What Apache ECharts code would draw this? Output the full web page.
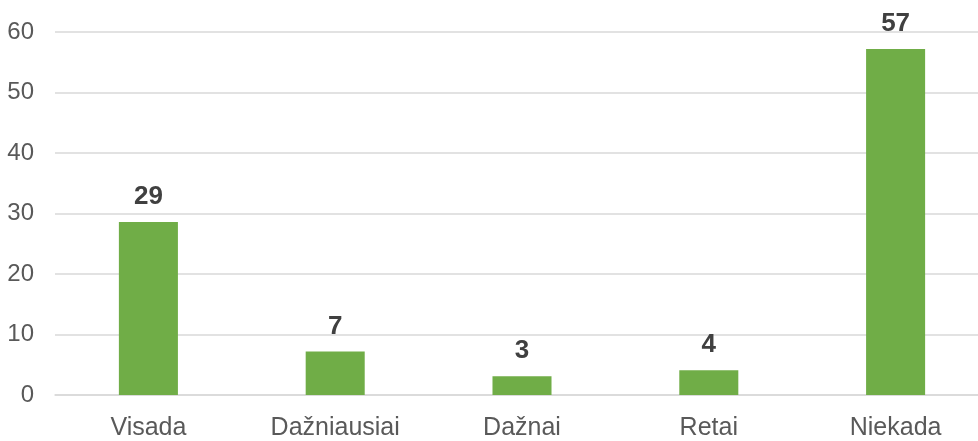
<!DOCTYPE html>
<html>
<head>
<meta charset="utf-8">
<script src="https://cdn.jsdelivr.net/npm/echarts@6/dist/echarts.min.js"></script>
<style>
  html, body { margin: 0; padding: 0; background: #ffffff; overflow: hidden; }
  #wrap { width: 978px; height: 441px; overflow: hidden; }
  /* plot runs slightly past the right edge of the visible frame */
  #chart { width: 990px; height: 441px; }
</style>
</head>
<body>
<div id="wrap"><div id="chart"></div></div>
<script>
// Answer categories and their shares (%)
const categories = ['Visada', 'Dažniausiai', 'Dažnai', 'Retai', 'Niekada'];
const values = [28.6, 7.2, 3.1, 4.1, 57.2];
const yTicks = [0, 10, 20, 30, 40, 50, 60];

const chart = echarts.init(document.getElementById('chart'), null, { renderer: 'canvas' });

chart.setOption({
  animation: false,
  backgroundColor: '#ffffff',
  textStyle: { fontFamily: 'Liberation Sans, Arial, sans-serif' },
  grid: { left: 55, top: 32, right: 1, height: 365, containLabel: false },
  xAxis: {
    type: 'category',
    data: categories,
    axisLine: { show: true, lineStyle: { color: '#d9d9d9', width: 1.5 } },
    axisTick: { show: false },
    axisLabel: { color: '#595959', fontSize: 25, margin: 21 }
  },
  yAxis: {
    type: 'value',
    min: yTicks[0],
    max: yTicks[yTicks.length - 1],
    interval: 10,
    axisLine: { show: false },
    axisTick: { show: false },
    axisLabel: { color: '#595959', fontSize: 24, margin: 21 },
    splitLine: { lineStyle: { color: '#d9d9d9', width: 1.5 } }
  },
  series: [{
    type: 'bar',
    data: values,
    barWidth: '31.6%',
    itemStyle: { color: '#70ad47' },
    label: {
      show: true,
      position: 'top',
      distance: 12,
      color: '#404040',
      fontSize: 26,
      fontWeight: 'bold',
      formatter: p => Math.round(p.value)
    }
  }]
});
</script>
</body>
</html>
